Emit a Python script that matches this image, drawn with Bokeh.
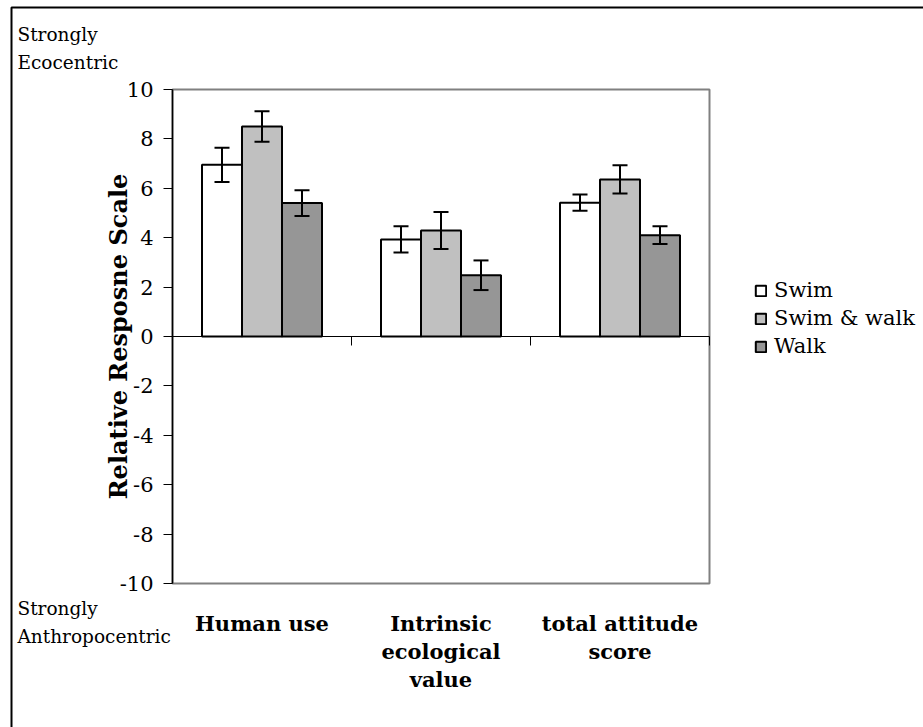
import math
from bokeh.plotting import figure
from bokeh.models import (ColumnDataSource, Whisker, Label, Legend, LegendItem, LinearAxis,
                          FixedTicker, BoxAnnotation, TeeHead, Range1d)
from bokeh.embed import file_html
from bokeh.resources import INLINE

# ---- data ----
categories = ["Human use", "Intrinsic ecological value", "total attitude score"]
category_lines = [["Human use"], ["Intrinsic", "ecological", "value"], ["total attitude", "score"]]
series = ["Swim", "Swim & walk", "Walk"]
swim = [6.95, 3.93, 5.42]
swim_err = [0.69, 0.53, 0.33]
swim_walk = [8.5, 4.29, 6.36]
swim_walk_err = [0.62, 0.75, 0.57]
walk = [5.4, 2.48, 4.1]
walk_err = [0.52, 0.6, 0.36]
y_ticks = [-10, -8, -6, -4, -2, 0, 2, 4, 6, 8, 10]
y_label = "Relative Resposne Scale"
top_note = ["Strongly", "Ecocentric"]
bottom_note = ["Strongly", "Anthropocentric"]

# ---- layout (pixels) ----
W, H = 923, 727
PL, PR, PT, PB = 172, 709, 89, 583          # plot-area edges
FONT = "DejaVu Serif"
colors = ["#FFFFFF", "#C0C0C0", "#969696"]
values = [swim, swim_walk, walk]
errors = [swim_err, swim_walk_err, walk_err]
ncat = len(categories)
y_min, y_max = y_ticks[0], y_ticks[-1]
xpp = ncat / (PR - PL)
ypp = (y_max - y_min) / (PB - PT)
x_range = Range1d(-PL * xpp, ncat + (W - PR) * xpp)
y_range = Range1d(y_min - (H - PB) * ypp, y_max + PT * ypp)
bw = 40 * xpp
offsets = [-bw, 0.0, bw]

p = figure(x_range=x_range, y_range=y_range, width=W, height=H,
           output_backend="svg", toolbar_location=None,
           x_axis_location=None, y_axis_location=None, min_border=0)
p.min_border_left = p.min_border_right = p.min_border_top = p.min_border_bottom = 0
p.background_fill_color = "white"
p.border_fill_color = "white"
p.outline_line_color = None
p.xgrid.visible = False
p.ygrid.visible = False

# plot area frame (gray) and left axis line
p.add_layout(BoxAnnotation(left=0, right=ncat, bottom=y_min, top=y_max,
                           fill_alpha=0, line_alpha=1,
                           line_color="#808080", line_width=2, level="underlay"))

ya = LinearAxis(fixed_location=0, ticker=FixedTicker(ticks=y_ticks))
ya.major_label_overrides = {t: str(t) for t in y_ticks}
ya.minor_tick_line_color = None
ya.major_tick_out = 9
ya.major_tick_in = 0
ya.axis_line_color = None
ya.major_tick_line_color = "black"
ya.major_label_text_font = FONT
ya.major_label_text_font_size = "21px"
ya.major_label_text_color = "black"
ya.major_label_standoff = 10
p.add_layout(ya, "left")
p.segment(x0=[0], y0=[y_min], x1=[0], y1=[y_max], line_color="black", line_width=1.5)

p.add_layout(Label(x=0, y=(y_min + y_max) / 2, x_offset=-(PL - 118), text=y_label,
                   angle=math.pi / 2, text_font=FONT, text_font_size="24px",
                   text_font_style="bold", text_align="center", text_baseline="middle",
                   text_color="black"))

items = []
for name, vals, errs, col, off in zip(series, values, errors, colors, offsets):
    xs = [i + 0.5 + off for i in range(ncat)]
    src = ColumnDataSource(dict(x=xs, val=vals,
                                upper=[v + e for v, e in zip(vals, errs)],
                                lower=[v - e for v, e in zip(vals, errs)]))
    r = p.vbar(x="x", top="val", bottom=0, width=bw, source=src,
               fill_color=col, line_color="black", line_width=2)
    w = Whisker(base="x", upper="upper", lower="lower", source=src,
                line_color="black", line_width=2, level="overlay",
                upper_head=TeeHead(size=15, line_width=2, line_color="black"),
                lower_head=TeeHead(size=15, line_width=2, line_color="black"))
    p.add_layout(w)
    items.append(LegendItem(label=name, renderers=[r]))

# zero line with category boundary ticks
p.segment(x0=[0], y0=[0], x1=[ncat], y1=[0], line_color="black", line_width=1)
bounds = list(range(1, ncat + 1))
p.segment(x0=bounds, y0=[0] * ncat, x1=bounds, y1=[-9 * ypp] * ncat,
          line_color="black", line_width=1)

legend = Legend(items=items, location=(754, 369), glyph_width=13, glyph_height=13,
                label_text_font=FONT, label_text_font_size="21px", label_text_color="black",
                label_standoff=7, label_height=20, spacing=4, padding=0, margin=0,
                border_line_color=None, background_fill_alpha=0)
p.add_layout(legend, "center")

# category labels below the plot area
for i, lines in enumerate(category_lines):
    for j, txt in enumerate(lines):
        p.add_layout(Label(x=i + 0.5, y=y_min, y_offset=-(40 + 28 * j), text=txt,
                           text_font=FONT, text_font_size="21px", text_font_style="bold",
                           text_align="center", text_baseline="middle", text_color="black"))

# side notes
for j, txt in enumerate(top_note):
    p.add_layout(Label(x=0, y=y_max, x_offset=-(PL - 17), y_offset=(PT - 34) - 28 * j,
                       text=txt, text_font=FONT, text_font_size="18.5px", text_align="left",
                       text_baseline="middle", text_color="black"))
for j, txt in enumerate(bottom_note):
    p.add_layout(Label(x=0, y=y_min, x_offset=-(PL - 17), y_offset=-(608 - PB) - 28 * j,
                       text=txt, text_font=FONT, text_font_size="18.5px", text_align="left",
                       text_baseline="middle", text_color="black"))

# outer border (left and top edges visible)
p.add_layout(BoxAnnotation(left=11, right=2000, top=7, bottom=2000,
                           left_units="canvas", right_units="canvas",
                           top_units="canvas", bottom_units="canvas",
                           fill_alpha=0, line_alpha=1, line_color="black", line_width=2,
                           level="overlay"))

open("out.html", "w").write(file_html(p, INLINE))
